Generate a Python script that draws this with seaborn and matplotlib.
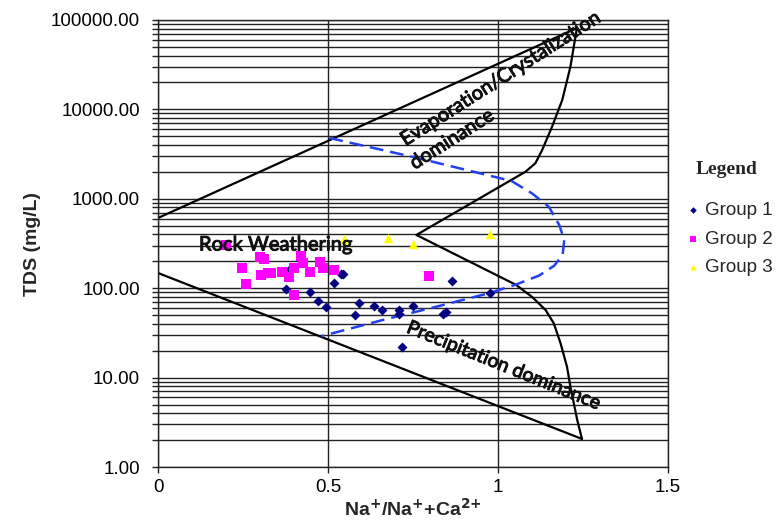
import numpy as np
import pandas as pd
import matplotlib
matplotlib.use("Agg")
import matplotlib.pyplot as plt
import matplotlib.patheffects as pe
import seaborn as sns
from matplotlib.ticker import FixedLocator, FuncFormatter, LogLocator, NullFormatter

# ---------------- data ----------------
g1_x = [0.539, 0.543, 0.519, 0.377, 0.446, 0.470, 0.495, 0.592, 0.578, 0.636,
        0.659, 0.708, 0.710, 0.749, 0.837, 0.848, 0.866, 0.976, 0.719, 0.387]
g1_tds = [143, 143, 113, 97, 90, 71, 62, 69, 50, 63,
          57, 57, 52, 63, 52, 54, 120, 88, 22, 164]

g2_x = [0.201, 0.299, 0.311, 0.248, 0.258, 0.304, 0.323, 0.333, 0.366, 0.385,
        0.399, 0.399, 0.421, 0.426, 0.446, 0.475, 0.485, 0.519, 0.796]
g2_tds = [304, 222, 212, 167, 111, 141, 147, 147, 151, 135,
          167, 84, 229, 190, 153, 198, 167, 160, 138]

g3_x = [0.548, 0.675, 0.749, 0.976]
g3_tds = [352, 362, 310, 401]

# Gibbs boundary lines
upper_x = [0.0, 1.232]
upper_tds = [610, 81300]
lower_x = [0.0, 1.247]
lower_tds = [148, 2.06]
right_x = [1.232, 1.213, 1.189, 1.159, 1.130, 1.110, 1.081, 0.760,
           1.053, 1.100, 1.140, 1.164, 1.184, 1.203, 1.213, 1.233, 1.247]
right_tds = [81300, 30060, 12740, 6400, 3520, 2500, 2010, 394,
             109, 80, 57, 40.5, 24.2, 13.2, 7.9, 3.36, 2.06]

# dashed curve
dash_x = [0.504, 0.76, 1.04, 1.10, 1.15, 1.18, 1.195, 1.19, 1.165, 1.12,
          1.053, 0.974, 0.818, 0.66, 0.48]
dash_tds = [4790, 2880, 1580, 1150, 810, 510, 350, 235, 178, 138,
            110, 88, 62, 44, 29]

x_ticks = [0, 0.5, 1, 1.5]
x_tick_labels = ["0", "0.5", "1", "1.5"]
y_ticks = [1, 10, 100, 1000, 10000, 100000]

# ---------------- plot ----------------
sns.set_theme(style="white")
plt.rcParams["font.family"] = ["Liberation Sans", "DejaVu Sans"]

fig = plt.figure(figsize=(7.77, 5.25), dpi=100)
ax = fig.add_axes([158 / 777, 1 - 467 / 525, 510 / 777, 447 / 525])
ax.set_yscale("log")
ax.set_xlim(0, 1.5)
ax.set_ylim(1, 100000)

grid_c = "#222222"
ax.grid(True, which="both", axis="y", color=grid_c, lw=1.0)
ax.grid(True, which="major", axis="x", color=grid_c, lw=1.0)
ax.set_axisbelow(True)

sns.lineplot(x=upper_x, y=upper_tds, sort=False, estimator=None, color="black", lw=1.6, ax=ax, legend=False)
sns.lineplot(x=lower_x, y=lower_tds, sort=False, estimator=None, color="black", lw=1.6, ax=ax, legend=False)
sns.lineplot(x=right_x, y=right_tds, sort=False, estimator=None, color="black", lw=1.6, ax=ax, legend=False)
sns.lineplot(x=dash_x, y=dash_tds, sort=False, estimator=None, color="#2340f0", lw=1.8,
             linestyle=(0, (5.5, 2.8)), ax=ax, legend=False)

sns.scatterplot(x=g1_x, y=g1_tds, marker="D", color="#000080", s=26, linewidth=0, ax=ax, label="Group 1", zorder=5)
sns.scatterplot(x=g2_x, y=g2_tds, marker="s", color="#ff00ff", s=44, linewidth=0, ax=ax, label="Group 2", zorder=5)
sns.scatterplot(x=g3_x, y=g3_tds, marker="^", color="#ffff00", s=46, linewidth=0, ax=ax, label="Group 3", zorder=5)

# axes formatting
ax.xaxis.set_major_locator(FixedLocator(x_ticks))
ax.set_xticklabels(x_tick_labels)
ax.yaxis.set_major_locator(FixedLocator(y_ticks))
ax.yaxis.set_minor_locator(LogLocator(base=10, subs=np.arange(2, 10)))
ax.yaxis.set_major_formatter(FuncFormatter(lambda v, _: f"{v:.2f}"))
ax.yaxis.set_minor_formatter(NullFormatter())
ax.tick_params(axis="both", which="major", direction="out", length=4, width=1.0, color=grid_c,
               labelsize=13.5, labelcolor="black", left=True, bottom=True)
ax.tick_params(axis="y", which="major", pad=9)
ax.tick_params(axis="x", which="major", pad=5)
ax.tick_params(axis="y", which="minor", direction="out", length=4, width=1.0, color=grid_c, left=True)
for sp in ax.spines.values():
    sp.set_color(grid_c)
    sp.set_linewidth(1.0)

ax.set_ylabel("TDS (mg/L)", fontsize=14, fontweight="bold", labelpad=7)
ax.set_xlabel(r"Na$^{\mathbf{+}}$/Na$^{\mathbf{+}}$+Ca$^{\mathbf{2{+}}}$", fontsize=14,
              fontweight="bold", labelpad=1)

# annotations
tfont = ["Lato", "DejaVu Sans"]
heavy = [pe.withStroke(linewidth=0.7, foreground="#111111")]
ax.text(1.008, 21900, "Evaporation/Crystalization", rotation=32.6, rotation_mode="anchor",
        ha="center", va="center", fontsize=14.3, family=tfont, color="#111111",
        path_effects=heavy, zorder=6)
ax.text(0.865, 4600, "dominance", rotation=32.6, rotation_mode="anchor",
        ha="center", va="center", fontsize=14.3, family=tfont, color="#111111",
        path_effects=heavy, zorder=6)
ax.text(1.018, 13.5, "Precipitation dominance", rotation=-22, rotation_mode="anchor",
        ha="center", va="center", fontsize=14, family=tfont, color="#111111",
        path_effects=heavy, zorder=6)
ax.text(0.346, 304, "Rock Weathering", ha="center", va="center", fontsize=14.5,
        family=tfont, color="#111111", path_effects=heavy, zorder=6)

# legend
fig.text(727 / 777, 1 - 170 / 525, "Legend", ha="center", va="center",
         family=["Liberation Serif"], fontweight="bold", fontsize=14)
leg = ax.legend(loc="center left", bbox_to_anchor=(678 / 777, 1 - 239 / 525),
                bbox_transform=fig.transFigure, frameon=False,
                fontsize=13.5, markerscale=0.65, handletextpad=0.25,
                labelspacing=0.62, handlelength=0.8, borderpad=0.4, borderaxespad=0)

fig.savefig("out.png", dpi=100)
